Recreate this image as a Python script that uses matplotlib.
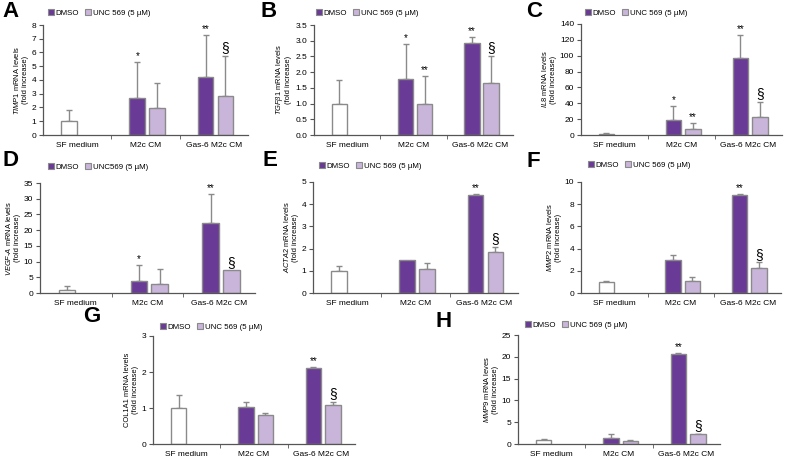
import matplotlib.pyplot as plt
import numpy as np

plt.rcParams['font.family'] = ['Liberation Sans', 'DejaVu Sans']
plt.rcParams['mathtext.fontset'] = 'custom'
plt.rcParams['mathtext.it'] = 'Liberation Sans:italic'
plt.rcParams['mathtext.rm'] = 'Liberation Sans'

# ---------------- data (fold increase, mean and upper error) ----------------
groups = ["SF medium", "M2c CM", "Gas-6 M2c CM"]
letters = ["A", "B", "C", "D", "E", "F", "G", "H"]
ylabels = [r"$\mathit{TIMP1}$ mRNA levels", r"$\mathit{TGF\beta1}$ mRNA levels",
           r"$\mathit{IL8}$ mRNA levels", r"$\mathit{VEGF}$-$\mathit{A}$ mRNA levels",
           r"$\mathit{ACTA2}$ mRNA levels", r"$\mathit{MMP2}$ mRNA levels",
           "COL1A1 mRNA levels", r"$\mathit{MMP9}$ mRNA leves"]
unc_labels = ["UNC 569 (5 µM)", "UNC 569 (5 µM)", "UNC 569 (5 µM)", "UNC569 (5 µM)",
              "UNC 569 (5 µM)", "UNC 569 (5 µM)", "UNC 569 (5 µM)", "UNC 569 (5 µM)"]

sf_mean = [1.0, 1.0, 1.0, 1.0, 1.0, 1.0, 1.0, 1.0]
sf_err = [0.8, 0.75, 1.0, 1.2, 0.22, 0.12, 0.37, 0.2]
m2c_dmso = [2.7, 1.78, 19, 3.7, 1.47, 3.0, 1.02, 1.3]
m2c_dmso_err = [2.6, 1.12, 18, 5.3, 0.0, 0.45, 0.15, 1.0]
m2c_unc = [1.95, 1.0, 7, 2.9, 1.1, 1.05, 0.8, 0.7]
m2c_unc_err = [1.8, 0.87, 8, 4.8, 0.23, 0.4, 0.07, 0.2]
gas6_dmso = [4.25, 2.92, 97, 22.3, 4.4, 8.85, 2.12, 20.7]
gas6_dmso_err = [3.05, 0.2, 29, 9.2, 0.08, 0.05, 0.03, 0.2]
gas6_unc = [2.8, 1.65, 23, 7.2, 1.83, 2.25, 1.07, 2.2]
gas6_unc_err = [2.95, 0.87, 19, 0.0, 0.24, 0.5, 0.1, 0.2]

m2c_dmso_sig = ["*", "*", "*", "*", "", "", "", ""]
m2c_unc_sig = ["", "**", "**", "", "", "", "", ""]
gas6_dmso_sig = ["**"] * 8
gas6_unc_sig = ["§"] * 8

y_max = [8, 3.5, 140, 35, 5, 10, 3, 25]
y_step = [1, 0.5, 20, 5, 1, 2, 1, 5]

# ---------------- layout (pixels) ----------------
W, H = 787, 465
boxes = [(43, 248, 25, 135), (314, 513, 25, 135), (581, 782, 24, 135),
         (40, 255, 183, 293), (313, 518, 182, 293), (581, 781, 182, 293),
         (153, 355, 336, 444), (518, 720, 335, 444)]
letter_pos = [(2, 1), (261, 1), (526, 1), (2, 150), (262, 150), (527, 151),
              (83, 306), (435, 311)]
legend_pos = [(48, 13), (316, 13), (585, 13), (48, 167), (319, 166), (588, 165),
              (160, 327), (525, 325)]

purple = "#6a3a97"
lilac = "#c9b5d9"
edge = "#8a8a8a"
gray = "#8a8a8a"
fs = 6
w = 0.23
off_d, off_u = -0.12, 0.17

fig = plt.figure(figsize=(W / 100, H / 100), dpi=100)

for i in range(8):
    x0, x1, yt, yb = boxes[i]
    ax = fig.add_axes([x0 / W, 1 - yb / H, (x1 - x0) / W, (yb - yt) / H])

    xs = [0 + off_d, 1 + off_d, 2 + off_d, 1 + off_u, 2 + off_u]
    means = [sf_mean[i], m2c_dmso[i], gas6_dmso[i], m2c_unc[i], gas6_unc[i]]
    errs = [sf_err[i], m2c_dmso_err[i], gas6_dmso_err[i], m2c_unc_err[i], gas6_unc_err[i]]
    sigs = ["", m2c_dmso_sig[i], gas6_dmso_sig[i], m2c_unc_sig[i], gas6_unc_sig[i]]
    cols = ["white", purple, purple, lilac, lilac]

    ax.bar(xs, means, w, color=cols, edgecolor=edge, linewidth=1.0, zorder=2)
    for xx, m, e, s in zip(xs, means, errs, sigs):
        if e > 0:
            ax.errorbar(xx, m, yerr=[[0], [e]], fmt="none", ecolor=gray,
                        elinewidth=1.0, capsize=2, capthick=1.0, zorder=1)
        if s:
            size = 10 if s == "§" else 7
            ax.annotate(s, (xx, m + e), xytext=(0, 0.5), textcoords="offset points",
                        ha="center", va="bottom", fontsize=size)

    ax.set_xlim(-0.5, 2.5)
    ax.set_ylim(0, y_max[i])
    ticks = np.arange(0, y_max[i] + y_step[i] / 2, y_step[i])
    ax.set_yticks(ticks)
    if y_step[i] < 1:
        ax.set_yticklabels([f"{t:.1f}" for t in ticks])
    ax.set_xticks(range(3))
    ax.set_xticklabels(groups)
    ax.set_xticks([0.5, 1.5], minor=True)
    ax.tick_params(axis="x", which="major", length=0, labelsize=fs, pad=5)
    ax.tick_params(axis="x", which="minor", length=3, direction="out", color="#555555")
    ax.tick_params(axis="y", length=3, labelsize=fs, pad=2, color="#555555")
    for side in ["top", "right"]:
        ax.spines[side].set_visible(False)
    for side in ["left", "bottom"]:
        ax.spines[side].set_color("#555555")
        ax.spines[side].set_linewidth(0.9)
    ax.set_ylabel(ylabels[i] + "\n(fold increase)", fontsize=5.4, labelpad=2, linespacing=1.15)

    hd = plt.Rectangle((0, 0), 1, 1, facecolor=purple, edgecolor=edge, linewidth=0.8)
    hu = plt.Rectangle((0, 0), 1, 1, facecolor=lilac, edgecolor=edge, linewidth=0.8)
    lx, ly = legend_pos[i]
    ax.legend([hd, hu], ["DMSO", unc_labels[i]], ncol=2, frameon=False, fontsize=5.7,
              loc="center left", bbox_to_anchor=(lx / W, 1 - ly / H),
              bbox_transform=fig.transFigure, borderpad=0, borderaxespad=0,
              handlelength=0.75, handleheight=0.75, handletextpad=0.2, columnspacing=0.8)

    px, py = letter_pos[i]
    fig.text(px / W, 1 - py / H, letters[i], fontsize=16, fontweight="bold",
             ha="left", va="top")

fig.savefig("out.png", dpi=100)
